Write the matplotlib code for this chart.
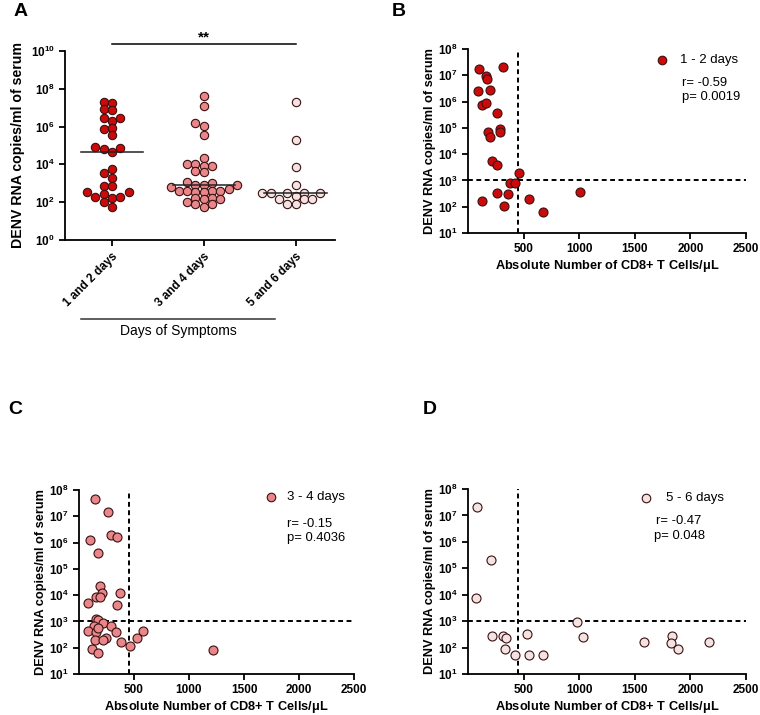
import numpy as np
import matplotlib
matplotlib.use('Agg')
import matplotlib.pyplot as plt
from matplotlib.ticker import FixedLocator, NullLocator, FixedFormatter
import matplotlib.transforms as mtransforms

plt.rcParams['font.family'] = ['Liberation Sans', 'DejaVu Sans']
plt.rcParams['mathtext.fontset'] = 'custom'
plt.rcParams['mathtext.rm'] = 'Liberation Sans'
plt.rcParams['mathtext.bf'] = 'Liberation Sans:bold'

# ---------------- data ----------------
groups = ['1 and 2 days', '3 and 4 days', '5 and 6 days']
viral_g1 = [2.0e7, 1.7e7, 8.9e6, 7.4e6, 2.7e6, 2.0e6, 2.7e6, 7.2e5, 8.5e5, 3.6e5,
            7.2e4, 6.6e4, 8.5e4, 4.3e4, 5.4e3, 3.6e3, 1.9e3, 740, 740, 330,
            280, 330, 160, 180, 180, 105, 58]
viral_g2 = [4.2e7, 1.3e7, 1.6e6, 1.1e6, 3.8e5, 2.3e4, 1.1e4, 8.7e3, 8.7e3, 1.1e4,
            4.6e3, 4.1e3, 1.1e3, 780, 660, 780, 780, 1.15e3, 410, 350,
            410, 510, 350, 410, 410, 160, 150, 160, 150, 76, 58, 76, 105]
viral_g3 = [2.0e7, 1.9e5, 6.9e3, 790, 290, 290, 290, 290, 320, 210, 140, 140, 150, 80, 80]

cd8_b = [99, 312, 162, 168, 87, 198, 126, 162, 261, 177, 291, 291, 198, 216, 264,
         456, 378, 420, 261, 360, 126, 321, 553, 1003, 676]
rna_b = [1.8e7, 2.0e7, 9.1e6, 7.2e6, 2.5e6, 2.8e6, 7.1e5, 8.5e5, 3.6e5, 7.1e4, 8.9e4,
         6.8e4, 4.5e4, 5.6e3, 3.7e3, 1.9e3, 780, 780, 330, 300, 166, 107, 190, 355, 62]

cd8_c = [149, 264, 294, 349, 103, 170, 194, 376, 206, 158, 188, 85, 349, 158, 176,
         134, 218, 288, 85, 158, 176, 340, 583, 149, 249, 218, 531, 386, 115, 170, 461, 1217]
rna_c = [4.5e7, 1.4e7, 2.0e6, 1.7e6, 1.2e6, 4.0e5, 2.3e4, 1.2e4, 1.2e4, 8.5e3, 8.5e3,
         5.0e3, 4.4e3, 1.2e3, 1.1e3, 680, 850, 680, 450, 410, 560, 380, 450, 200, 230,
         190, 240, 166, 89, 63, 115, 81]

cd8_d = [81, 204, 69, 977, 219, 316, 340, 535, 1031, 331, 421, 550, 670, 1587, 1839,
         1823, 1884, 2164]
rna_d = [2.1e7, 2.0e5, 7.2e3, 890, 270, 270, 240, 320, 260, 87, 51, 51, 51, 160, 280,
         145, 87, 160]

stats = [('1 - 2 days', 'r= -0.59', 'p= 0.0019'),
         ('3 - 4 days', 'r= -0.15', 'p= 0.4036'),
         ('5 - 6 days', 'r= -0.47', 'p= 0.048')]

colors = ['#CC0A0A', '#E8868A', '#F3E3E3']
cd8_cut = 450
rna_cut = 1000

# ---------------- figure ----------------
W, H = 760, 715
fig = plt.figure(figsize=(W / 100, H / 100), dpi=100)


def px_axes(l, t, r, b):
    return fig.add_axes([l / W, (H - b) / H, (r - l) / W, (b - t) / H])


def style(ax):
    for s in ['top', 'right']:
        ax.spines[s].set_visible(False)
    for s in ['left', 'bottom']:
        ax.spines[s].set_linewidth(1.3)
    ax.tick_params(direction='out', width=1.3, length=4, labelsize=8.5)
    for lab in ax.get_xticklabels() + ax.get_yticklabels():
        lab.set_fontweight('bold')


def log_labels(exps):
    return [r'$\mathbf{10^{%d}}$' % e for e in exps]


# ---------- Panel A ----------
axA = px_axes(65, 51, 335, 240)
axA.set_yscale('log')
axA.set_ylim(1, 1e10)
axA.set_xlim(0.489, 3.43)
exps = [0, 2, 4, 6, 8, 10]
axA.yaxis.set_major_locator(FixedLocator([10.0 ** e for e in exps]))
axA.yaxis.set_major_formatter(FixedFormatter(log_labels(exps)))
axA.yaxis.set_minor_locator(NullLocator())
axA.set_xticks([1, 2, 3])
axA.set_xticklabels(groups, rotation=45, ha='right', rotation_mode='anchor',
                    fontsize=9, fontweight='bold')
style(axA)
axA.set_ylabel('DENV RNA copies/ml of serum', fontsize=10.2, fontweight='bold', labelpad=4)

fig.canvas.draw()


def swarm_offsets(ax, vals, dx_px=8.3, d_px=6.0):
    """Greedy beeswarm on a fixed column grid (Prism-like scatter dot plot)."""
    p0 = ax.transData.transform((1, 1))
    p1 = ax.transData.transform((2, 10))
    px_unit = p1[0] - p0[0]
    px_dec = p1[1] - p0[1]
    vals = np.asarray(vals, float)
    order = np.argsort(vals)
    placed = []
    offs = np.zeros(len(vals))
    cand = [0]
    for k in range(1, 8):
        cand += [-k, k]
    for i in order:
        y = np.log10(vals[i]) * px_dec
        for k in cand:
            if all(np.hypot((k - kk) * dx_px, y - yy) >= d_px for kk, yy in placed):
                break
        placed.append((k, y))
        offs[i] = k * dx_px / px_unit
    return offs


for gi, (vals, col) in enumerate(zip([viral_g1, viral_g2, viral_g3], colors)):
    xc = gi + 1
    offs = swarm_offsets(axA, vals)
    axA.scatter(xc + offs, vals, s=36, facecolor=col, edgecolor='#3a1010',
                linewidth=0.8, zorder=3, clip_on=False)
    med = np.median(vals)
    axA.plot([xc - 0.34, xc + 0.34], [med, med], color='#222222', lw=1.1, zorder=4)

trA = mtransforms.blended_transform_factory(axA.transData, axA.transAxes)
axA.plot([1.0, 3.0], [1.037, 1.037], color='black', lw=1.1, transform=trA, clip_on=False)
axA.text(2.0, 1.035, '**', transform=trA, ha='center', va='bottom',
         fontsize=11, fontweight='bold')
axA.plot([0.059, 0.778], [-0.418, -0.418], color='#333333', lw=1.1,
         transform=axA.transAxes, clip_on=False)
axA.text(0.419, -0.445, 'Days of Symptoms', transform=axA.transAxes, ha='center',
         va='top', fontsize=10)


# ---------- Panels B, C, D ----------
def scatter_panel(ax, xs, ys, col, st, leg_pos):
    ax.set_yscale('log')
    ax.set_ylim(10, 1e8)
    ax.set_xlim(0, 2500)
    e = list(range(1, 9))
    ax.yaxis.set_major_locator(FixedLocator([10.0 ** k for k in e]))
    ax.yaxis.set_major_formatter(FixedFormatter(log_labels(e)))
    ax.yaxis.set_minor_locator(NullLocator())
    ax.set_xticks([500, 1000, 1500, 2000, 2500])
    style(ax)
    ax.axvline(cd8_cut, color='black', lw=1.4, ls=(0, (2.5, 1.8)), zorder=2)
    ax.axhline(rna_cut, color='black', lw=1.4, ls=(0, (2.5, 1.8)), zorder=2)
    ax.scatter(xs, ys, s=42, facecolor=col, edgecolor='#3a1010', linewidth=0.8,
               zorder=3, clip_on=False)
    ax.set_ylabel('DENV RNA copies/ml of serum', fontsize=9.2, fontweight='bold', labelpad=1.5)
    ax.set_xlabel(r'Absolute Number of CD8+ T Cells/$\mathbf{\mu}$L', fontsize=9.2,
                  fontweight='bold', labelpad=2)
    (mx, my), (tx, ty), (rx, ry), (px_, py) = leg_pos
    ax.scatter([mx], [my], s=38, facecolor=col, edgecolor='#3a1010', linewidth=0.8,
               transform=ax.transAxes, clip_on=False, zorder=5)
    ax.text(tx, ty, st[0], transform=ax.transAxes, fontsize=9.5, va='center', ha='left')
    ax.text(rx, ry, st[1], transform=ax.transAxes, fontsize=9.4, va='center', ha='left')
    ax.text(px_, py, st[2], transform=ax.transAxes, fontsize=9.4, va='center', ha='left')


axB = px_axes(468, 49, 746, 233)
scatter_panel(axB, cd8_b, rna_b, colors[0], stats[0],
              [(0.698, 0.94), (0.763, 0.94), (0.77, 0.815), (0.77, 0.739)])
axC = px_axes(79, 490, 354, 674)
scatter_panel(axC, cd8_c, rna_c, colors[1], stats[1],
              [(0.698, 0.962), (0.756, 0.962), (0.756, 0.815), (0.756, 0.739)])
axD = px_axes(468, 489, 746, 674)
scatter_panel(axD, cd8_d, rna_d, colors[2], stats[2],
              [(0.64, 0.951), (0.712, 0.951), (0.676, 0.827), (0.669, 0.746)])

# panel letters
for lbl, x, y in [('A', 14, 12), ('B', 392, 12), ('C', 8, 409), ('D', 423, 409)]:
    fig.text(x / W, 1 - y / H, lbl, fontsize=14, fontweight='bold', va='center', ha='left')

fig.savefig('out.png', dpi=100)
